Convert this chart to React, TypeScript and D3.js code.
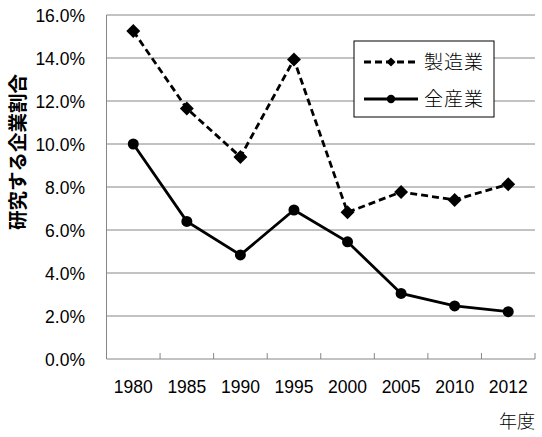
import React from "react";
import * as d3 from "d3";

const years = ["1980", "1985", "1990", "1995", "2000", "2005", "2010", "2012"];
const manufacturing = [15.25, 11.65, 9.4, 13.93, 6.82, 7.77, 7.4, 8.13];
const allIndustries = [10.0, 6.4, 4.84, 6.93, 5.45, 3.05, 2.47, 2.2];
const yTicks = [0, 2, 4, 6, 8, 10, 12, 14, 16];
const seriesNames = ["製造業", "全産業"];
const yTitle = "研究する企業割合";
const xTitle = "年度";

const W = 542;
const H = 437;
const left = 106.5;
const right = 535;
const top = 15;
const bottom = 359;

export default function App() {
  const x = d3.scaleBand<string>().domain(years).range([left, right]);
  const y = d3.scaleLinear().domain([0, 16]).range([bottom, top]);
  const cx = (d: string) => (x(d) ?? 0) + x.bandwidth() / 2;
  const line = d3
    .line<number>()
    .x((_, i) => cx(years[i]))
    .y((v) => y(v));
  const diamond = d3.symbol(d3.symbolSquare, 98)();
  const diamondSmall = d3.symbol(d3.symbolSquare, 42)();
  const numFont = "'Liberation Sans', Arial, sans-serif";
  const cjkFont = "'Noto Sans CJK JP', sans-serif";
  const grid = "#868686";

  return (
    <svg
      width={W}
      height={H}
      style={{ position: "absolute", left: 0, top: 0, background: "#fff" }}
    >
      {/* gridlines */}
      {yTicks.map((t) =>
        t === 0 ? null : (
          <line key={t} x1={left} x2={right} y1={y(t)} y2={y(t)} stroke={grid} strokeWidth={1} />
        )
      )}
      {/* axes */}
      <line x1={left} x2={left} y1={top} y2={bottom} stroke={grid} strokeWidth={1} />
      <line x1={left} x2={right} y1={bottom} y2={bottom} stroke={grid} strokeWidth={1} />
      {years.map((d) => (
        <line
          key={d}
          x1={(x(d) ?? 0) + x.bandwidth()}
          x2={(x(d) ?? 0) + x.bandwidth()}
          y1={bottom}
          y2={bottom - 6}
          stroke={grid}
          strokeWidth={1}
        />
      ))}
      {/* y tick labels */}
      {yTicks.map((t) => (
        <text
          key={t}
          x={85}
          y={y(t) + 6.5}
          textAnchor="end"
          fontFamily={numFont}
          fontSize={17.5}
          fill="#000"
        >
          {t.toFixed(1) + "%"}
        </text>
      ))}
      {/* x tick labels */}
      {years.map((d) => (
        <text
          key={d}
          x={cx(d)}
          y={393}
          textAnchor="middle"
          fontFamily={numFont}
          fontSize={17.5}
          fill="#000"
        >
          {d}
        </text>
      ))}
      {/* y title */}
      <text
        transform={`translate(25,152) rotate(-90)`}
        textAnchor="middle"
        fontFamily={cjkFont}
        fontSize={19.5}
        fontWeight={700}
        fill="#000"
      >
        {yTitle}
      </text>
      {/* x title */}
      <text x={535} y={428} textAnchor="end" fontFamily={cjkFont} fontSize={18} fontWeight={300} fill="#000">
        {xTitle}
      </text>
      {/* series */}
      <path
        d={line(manufacturing) ?? ""}
        fill="none"
        stroke="#000"
        strokeWidth={2.8}
        strokeDasharray="7,4"
      />
      <path d={line(allIndustries) ?? ""} fill="none" stroke="#000" strokeWidth={2.8} />
      {manufacturing.map((v, i) => (
        <path
          key={i}
          d={diamond ?? ""}
          transform={`translate(${cx(years[i])},${y(v)}) rotate(45)`}
          fill="#000"
        />
      ))}
      {allIndustries.map((v, i) => (
        <circle key={i} cx={cx(years[i])} cy={y(v)} r={5.5} fill="#000" />
      ))}
      {/* legend */}
      <rect x={354} y={41} width={140} height={76} fill="#fff" stroke="#000" strokeWidth={1} />
      <line x1={364} x2={418} y1={62} y2={62} stroke="#000" strokeWidth={2.8} strokeDasharray="7,4" />
      <path d={diamondSmall ?? ""} transform="translate(391,62) rotate(45)" fill="#000" />
      <text x={424} y={69} fontFamily={cjkFont} fontSize={19} fontWeight={300} letterSpacing={1} fill="#000">
        {seriesNames[0]}
      </text>
      <line x1={364} x2={418} y1={99} y2={99} stroke="#000" strokeWidth={2.8} />
      <circle cx={391} cy={99} r={4.2} fill="#000" />
      <text x={424} y={106} fontFamily={cjkFont} fontSize={19} fontWeight={300} letterSpacing={1} fill="#000">
        {seriesNames[1]}
      </text>
    </svg>
  );
}
